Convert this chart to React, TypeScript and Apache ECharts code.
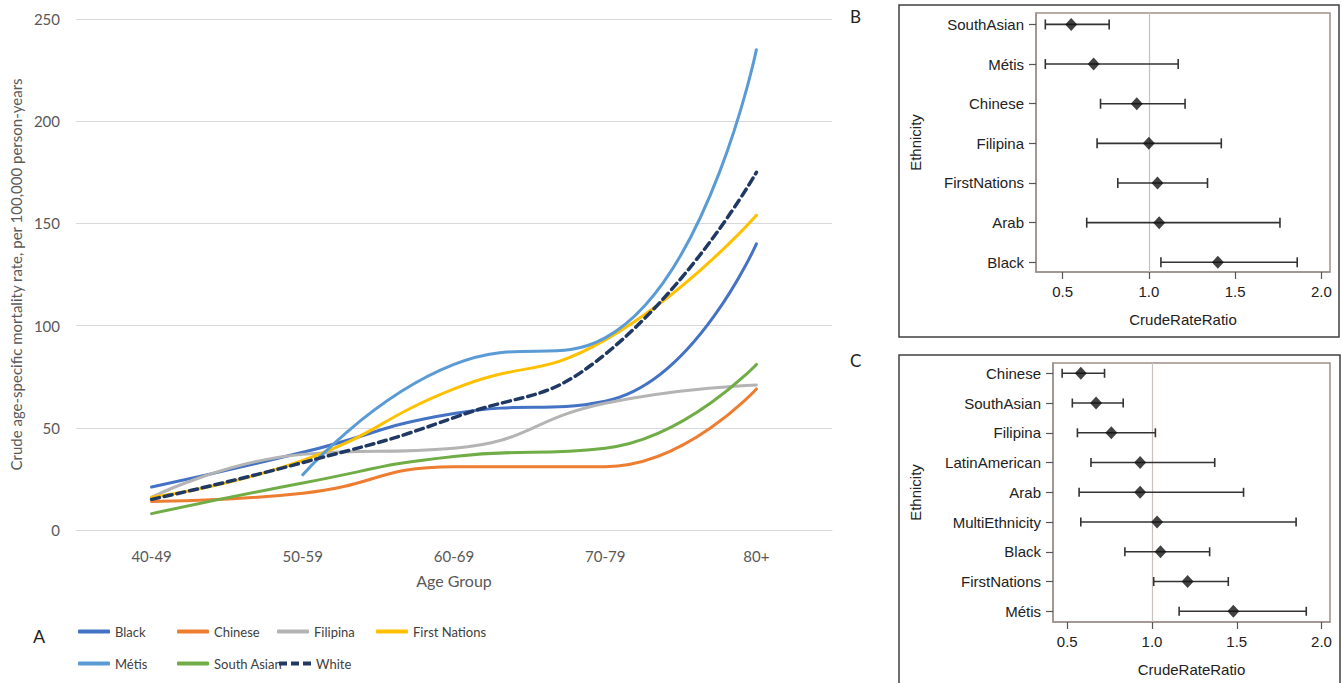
import React, { useEffect, useRef } from "react";
import * as echarts from "echarts";

// ---------- Panel A data ----------
const ageGroups = ["40-49", "50-59", "60-69", "70-79", "80+"];
const black = [21, 38, 57, 63, 140];
const chinese = [14, 18, 31, 31, 69];
const filipina = [16, 37, 40, 62, 71];
const firstNations = [16, 34, 69, 93, 154];
const metis = [null, 27, 81, 94, 235];
const southAsian = [8, 23, 36, 40, 81];
const white = [15, 33, 55, 86, 175];

// ---------- Panel B data ----------
const ethB = ["SouthAsian", "Métis", "Chinese", "Filipina", "FirstNations", "Arab", "Black"];
const rrB = [0.55, 0.68, 0.93, 1.0, 1.05, 1.06, 1.4];
const lowB = [0.4, 0.4, 0.72, 0.7, 0.82, 0.64, 1.07];
const highB = [0.77, 1.17, 1.21, 1.42, 1.34, 1.76, 1.86];

// ---------- Panel C data ----------
const ethC = ["Chinese", "SouthAsian", "Filipina", "LatinAmerican", "Arab", "MultiEthnicity", "Black", "FirstNations", "Métis"];
const rrC = [0.58, 0.67, 0.76, 0.93, 0.93, 1.03, 1.05, 1.21, 1.48];
const lowC = [0.47, 0.53, 0.56, 0.64, 0.57, 0.58, 0.84, 1.01, 1.16];
const highC = [0.72, 0.83, 1.02, 1.37, 1.54, 1.85, 1.34, 1.45, 1.91];

const ratioTicks = [0.5, 1.0, 1.5, 2.0];

const lineSeries = [
  { name: "Black", data: black, color: "#4472C4", dashed: false },
  { name: "Chinese", data: chinese, color: "#ED7D31", dashed: false },
  { name: "Filipina", data: filipina, color: "#B4B4B4", dashed: false },
  { name: "First Nations", data: firstNations, color: "#FFC000", dashed: false },
  { name: "Métis", data: metis, color: "#5B9BD5", dashed: false },
  { name: "South Asian", data: southAsian, color: "#70AD47", dashed: false },
  { name: "White", data: white, color: "#203864", dashed: true },
];

const legendPos = [
  { left: 78, top: 625 },
  { left: 177, top: 625 },
  { left: 277, top: 625 },
  { left: 376, top: 625 },
  { left: 78, top: 657 },
  { left: 177, top: 657 },
  { left: 279, top: 657 },
];

const frameColor = "#9d918c";
const sasFont = "Liberation Sans, Arial, sans-serif";
const xlFont = "Lato, sans-serif";
const dashIcon = "path://M0,0h8v4h-8z M12,0h8v4h-8z M24,0h8v4h-8z";

function ratioAxes(gridIndex: number, min: number, max: number, cats: string[], ymin: number, ymax: number, nameGapY: number) {
  const idx = cats.map((_, i) => i);
  const x = {
    type: "value",
    gridIndex,
    min,
    max,
    axisLine: { show: true, onZero: false, lineStyle: { color: frameColor, width: 1.5 } },
    axisTick: { show: true, customValues: ratioTicks, length: 7, lineStyle: { color: "#555", width: 1.2 } },
    axisLabel: {
      customValues: ratioTicks,
      formatter: (v: number) => v.toFixed(1),
      color: "#222",
      fontFamily: sasFont,
      fontSize: 15,
      margin: 12,
    },
    splitLine: { show: false },
    name: "CrudeRateRatio",
    nameLocation: "middle",
    nameGap: 40,
    nameTextStyle: { color: "#222", fontFamily: sasFont, fontSize: 15 },
  };
  const y = {
    type: "value",
    gridIndex,
    inverse: true,
    min: ymin,
    max: ymax,
    axisLine: { show: true, onZero: false, lineStyle: { color: frameColor, width: 1.5 } },
    axisTick: { show: true, customValues: idx, length: 7, lineStyle: { color: "#555", width: 1.2 } },
    axisLabel: {
      customValues: idx,
      formatter: (v: number) => cats[Math.round(v)] ?? "",
      color: "#222",
      fontFamily: sasFont,
      fontSize: 15,
      margin: 12,
    },
    splitLine: { show: false },
    name: "Ethnicity",
    nameLocation: "middle",
    nameGap: nameGapY,
    nameRotate: 90,
    nameTextStyle: { color: "#222", fontFamily: sasFont, fontSize: 15 },
  };
  return { x, y };
}

function errorSeries(axisIndex: number, low: number[], high: number[], pts: number[], capH: number) {
  return [
    {
      type: "custom",
      xAxisIndex: axisIndex,
      yAxisIndex: axisIndex,
      data: low.map((l, i) => [l, high[i], i]),
      encode: { x: [0, 1], y: 2 },
      renderItem: (_params: any, api: any) => {
        const yv = api.value(2);
        const a = api.coord([api.value(0), yv]);
        const b = api.coord([api.value(1), yv]);
        const style = { stroke: "#333", lineWidth: 1.6, fill: null };
        return {
          type: "group",
          children: [
            { type: "line", shape: { x1: a[0], y1: a[1], x2: b[0], y2: b[1] }, style },
            { type: "line", shape: { x1: a[0], y1: a[1] - capH / 2, x2: a[0], y2: a[1] + capH / 2 }, style },
            { type: "line", shape: { x1: b[0], y1: b[1] - capH / 2, x2: b[0], y2: b[1] + capH / 2 }, style },
          ],
        };
      },
      z: 3,
    },
    {
      type: "scatter",
      xAxisIndex: axisIndex,
      yAxisIndex: axisIndex,
      data: pts.map((v, i) => [v, i]),
      symbol: "diamond",
      symbolSize: [12, 13],
      itemStyle: { color: "#111" },
      z: 4,
      markLine: {
        silent: true,
        symbol: "none",
        label: { show: false },
        lineStyle: { color: "#c9c1bd", width: 1.2, type: "solid" },
        data: [{ xAxis: 1 }],
        z: 1,
      },
    },
  ];
}

export default function App() {
  const ref = useRef<HTMLDivElement>(null);
  useEffect(() => {
    if (!ref.current) return;
    const chart = echarts.init(ref.current, null, { renderer: "svg" });
    const bAxes = ratioAxes(1, 0.346, 2.05, ethB, -0.288, 6.245, 113);
    const cAxes = ratioAxes(2, 0.416, 2.05, ethC, -0.346, 8.36, 130);

    const option: any = {
      animation: false,
      backgroundColor: "#ffffff",
      grid: [
        { left: 74, top: 19, width: 758, height: 511, containLabel: false },
        { left: 1036, top: 13, width: 294, height: 259, show: true, borderColor: frameColor, borderWidth: 1.5 },
        { left: 1053, top: 363, width: 277, height: 259, show: true, borderColor: frameColor, borderWidth: 1.5 },
      ],
      xAxis: [
        {
          type: "category",
          gridIndex: 0,
          data: ageGroups,
          boundaryGap: true,
          axisTick: { show: false },
          axisLine: { show: true, lineStyle: { color: "#d9d9d9", width: 1 } },
          axisLabel: { color: "#595959", fontFamily: xlFont, fontSize: 15, margin: 18 },
          name: "Age Group",
          nameLocation: "middle",
          nameGap: 42,
          nameTextStyle: { color: "#595959", fontFamily: xlFont, fontSize: 16 },
        },
        bAxes.x,
        cAxes.x,
      ],
      yAxis: [
        {
          type: "value",
          gridIndex: 0,
          min: 0,
          max: 250,
          interval: 50,
          axisLine: { show: false },
          axisTick: { show: false },
          axisLabel: { color: "#595959", fontFamily: xlFont, fontSize: 15, margin: 16 },
          splitLine: { show: true, lineStyle: { color: "#d9d9d9", width: 1 } },
          name: "Crude age-specific mortality rate, per 100,000 person-years",
          nameLocation: "middle",
          nameGap: 49,
          nameTextStyle: { color: "#595959", fontFamily: xlFont, fontSize: 15 },
        },
        bAxes.y,
        cAxes.y,
      ],
      legend: lineSeries.map((s, i) => ({
        data: [{ name: s.name, icon: s.dashed ? dashIcon : "roundRect" }],
        left: legendPos[i].left,
        top: legendPos[i].top,
        padding: 0,
        itemWidth: 32,
        itemHeight: 4,
        itemGap: 0,
        selectedMode: false,
        itemStyle: { color: s.color, borderWidth: 0 },
        lineStyle: { width: 0 },
        textStyle: { color: "#404040", fontFamily: xlFont, fontSize: 13 },
      })),
      series: [
        ...lineSeries.map((s) => ({
          type: "line",
          name: s.name,
          xAxisIndex: 0,
          yAxisIndex: 0,
          data: s.data,
          smooth: 0.5,
          symbol: "none",
          showSymbol: false,
          connectNulls: false,
          color: s.color,
          lineStyle: { color: s.color, width: s.dashed ? 3.5 : 3, type: s.dashed ? [8, 5] : "solid", cap: "round" },
        })),
        ...errorSeries(1, lowB, highB, rrB, 10),
        ...errorSeries(2, lowC, highC, rrC, 9),
      ],
      graphic: [
        { type: "rect", shape: { x: 899, y: 5, width: 440, height: 332 }, style: { fill: null, stroke: "#404040", lineWidth: 1.5 } },
        { type: "rect", shape: { x: 899, y: 355, width: 441, height: 345 }, style: { fill: null, stroke: "#404040", lineWidth: 1.5 } },
        { type: "text", left: 850, top: 8, style: { text: "B", font: "17px Lato, sans-serif", fill: "#222" } },
        { type: "text", left: 850, top: 352, style: { text: "C", font: "17px Lato, sans-serif", fill: "#222" } },
        { type: "text", left: 33, top: 627, style: { text: "A", font: "18px Lato, sans-serif", fill: "#222" } },
      ],
    };
    chart.setOption(option);
    return () => chart.dispose();
  }, []);
  return (
    <div
      ref={ref}
      style={{ position: "fixed", left: 0, top: 0, width: 1342, height: 683, background: "#fff" }}
    />
  );
}
